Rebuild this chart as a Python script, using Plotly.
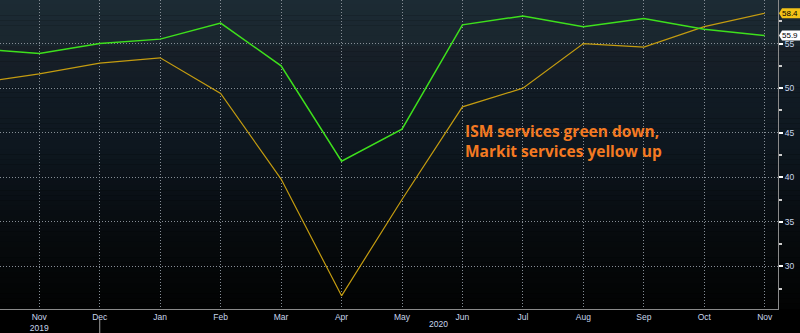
import plotly.graph_objects as go

# ---- data ----
months = ["Oct 2019", "Nov 2019", "Dec 2019", "Jan 2020", "Feb 2020", "Mar 2020", "Apr 2020",
          "May 2020", "Jun 2020", "Jul 2020", "Aug 2020", "Sep 2020", "Oct 2020", "Nov 2020"]
ism_services = [54.4, 53.9, 55.0, 55.5, 57.3, 52.5, 41.8, 45.4, 57.1, 58.1, 56.9, 57.8, 56.6, 55.9]
markit_services = [50.6, 51.6, 52.8, 53.4, 49.4, 39.8, 26.7, 37.5, 47.9, 50.0, 55.0, 54.6, 56.9, 58.4]
tick_labels = ["Nov<br>2019", "Dec", "Jan", "Feb", "Mar", "Apr", "May", "Jun",
               "Jul", "Aug", "Sep", "Oct", "Nov"]
y_ticks = [30, 35, 40, 45, 50, 55]
note_text = "ISM services green down,<br>Markit services yellow up"

x = list(range(len(months)))
tick_pos = x[1:]

GREEN = "#3ee01c"
YELLOW = "#c49c10"
GRID = "#868e96"
TXT = "#c8d6ec"

fig = go.Figure()

# background gradient bands (style only)
stops = [(0.0, (28, 43, 52)), (0.14, (26, 38, 46)), (0.16, (24, 32, 40)), (0.3, (17, 27, 36)),
         (0.5, (13, 22, 30)), (0.62, (10, 16, 22)), (0.75, (7, 11, 14)), (0.9, (4, 6, 7)),
         (1.0, (2, 3, 3))]
nb = 60
for k in range(nb):
    t = (k + 0.5) / nb
    for j in range(len(stops) - 1):
        if stops[j][0] <= t <= stops[j + 1][0]:
            a, ca = stops[j]
            b, cb = stops[j + 1]
            f = (t - a) / (b - a)
            c = tuple(int(round(ca[i] + (cb[i] - ca[i]) * f)) for i in range(3))
            break
    fig.add_shape(type="rect", xref="paper", yref="paper", x0=0, x1=1.03,
                  y0=1 - (k + 1) / nb, y1=1 - k / nb + 0.001,
                  fillcolor="rgb(%d,%d,%d)" % c, line=dict(width=0), layer="below")

fig.add_trace(go.Scatter(x=x, y=markit_services, mode="lines", name="Markit services",
                         line=dict(color=YELLOW, width=1.2), cliponaxis=True))
fig.add_trace(go.Scatter(x=x, y=ism_services, mode="lines", name="ISM services",
                         line=dict(color=GREEN, width=1.5), cliponaxis=True))

# last value tags
for vals, col, fcol in [(markit_services, "#f2c318", "#000000"), (ism_services, "#ffffff", "#000000")]:
    v = vals[-1]
    fig.add_shape(type="path", xref="paper", xsizemode="pixel", xanchor=1,
                  yref="y", ysizemode="pixel", yanchor=v,
                  path="M1,0 L4,-5 L26,-5 L26,5 L4,5 Z",
                  fillcolor=col, line=dict(width=0), layer="above")
    fig.add_annotation(xref="paper", x=1, xanchor="left", xshift=3, yref="y", y=v,
                       yanchor="middle", text="%.1f" % v, showarrow=False, borderpad=0,
                       font=dict(family="Liberation Sans", size=8, color=fcol))

# year separator below axis at Dec
fig.add_shape(type="line", xref="x", x0=tick_pos[1], x1=tick_pos[1], yref="paper",
              y0=-0.035, y1=-0.08, line=dict(color="#a0a0a0", width=1))
fig.add_annotation(xref="x", x=7.6, yref="paper", y=-15.5 / 312, yanchor="middle", text="2020",
                   showarrow=False, borderpad=0,
                   font=dict(family="Liberation Sans", size=8.5, color=TXT))

fig.add_annotation(xref="paper", x=464 / 778, xanchor="left", yref="paper",
                   y=1 - 142 / 312, yanchor="middle", align="left",
                   showarrow=False, text=note_text, borderpad=0,
                   font=dict(family="Open Sans", size=15.5, color="#f47a22", weight="bold"))

fig.update_layout(
    width=800, height=333,
    margin=dict(l=0, r=22, t=0, b=21),
    paper_bgcolor="#000000", plot_bgcolor="rgba(0,0,0,0)",
    showlegend=False,
    xaxis=dict(range=[0.35, 13.22], tickmode="array", tickvals=tick_pos, ticktext=tick_labels,
               showgrid=True, gridcolor=GRID, griddash="1px,2px", gridwidth=1,
               showline=True, linecolor="#8a8a8a", linewidth=1, zeroline=False,
               ticks="", tickfont=dict(family="Liberation Sans", size=8.5, color=TXT)),
    yaxis=dict(range=[25.22, 59.89], side="right", tickmode="array", tickvals=y_ticks,
               showgrid=True, gridcolor=GRID, griddash="1px,2px", gridwidth=1,
               showline=True, linecolor="#8a8a8a", linewidth=1, zeroline=False,
               ticks="outside", ticklen=4, tickwidth=2, tickcolor="#ffffff",
               minor=dict(dtick=2.5, tick0=27.5, ticks="outside", ticklen=3, tickcolor="#cccccc",
                          showgrid=False),
               tickfont=dict(family="Liberation Sans", size=8.5, color=TXT)),
)

fig.write_html("out.html")
